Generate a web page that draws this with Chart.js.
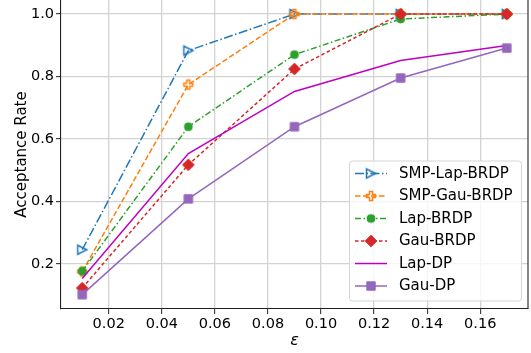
<!DOCTYPE html>
<html><head><meta charset="utf-8">
<script src="https://cdn.jsdelivr.net/npm/chart.js@4"></script>
<style>html,body{margin:0;padding:0;background:#fff}#wrap{width:531px;height:353px}</style>
</head><body><div id="wrap"><canvas id="c" width="531" height="353"></canvas></div>
<script>
// ---- data ----
const epsilons = [0.01, 0.05, 0.09, 0.13, 0.17];
const seriesNames = ['SMP-Lap-BRDP', 'SMP-Gau-BRDP', 'Lap-BRDP', 'Gau-BRDP', 'Lap-DP', 'Gau-DP'];
const smpLapBrdp = [0.245, 0.883, 1.0, 1.0, 1.0];
const smpGauBrdp = [0.175, 0.774, 1.0, 1.0, 1.0];
const lapBrdp    = [0.176, 0.639, 0.870, 0.984, 1.0];
const gauBrdp    = [0.122, 0.517, 0.824, 1.0, 1.0];
const lapDp      = [0.153, 0.553, 0.752, 0.851, 0.899];
const gauDp      = [0.101, 0.408, 0.639, 0.795, 0.891];
const xTicks = [0.02, 0.04, 0.06, 0.08, 0.10, 0.12, 0.14, 0.16];
const yTicks = [0.2, 0.4, 0.6, 0.8, 1.0];
const xLabel = 'ε';
const yLabel = 'Acceptance Rate';

// ---- styles ----
const FONT = "'DejaVu Sans', sans-serif";
const MS = 9;
function marker(type, color, filled) {
  const s = 22, c = document.createElement('canvas');
  c.width = s; c.height = s;
  const g = c.getContext('2d');
  g.translate(s / 2, s / 2);
  g.beginPath();
  const h = MS / 2;
  if (type === 'triR') {
    g.moveTo(h, 0); g.lineTo(-h, -h); g.lineTo(-h, h); g.closePath();
  } else if (type === 'plus') {
    const a = MS / 6, b = MS / 2;
    const pts = [[-a,-b],[a,-b],[a,-a],[b,-a],[b,a],[a,a],[a,b],[-a,b],[-a,a],[-b,a],[-b,-a],[-a,-a]];
    pts.forEach((p, i) => i ? g.lineTo(p[0], p[1]) : g.moveTo(p[0], p[1]));
    g.closePath();
  } else if (type === 'circle') {
    g.arc(0, 0, 4.0, 0, Math.PI * 2);
  } else if (type === 'diamond') {
    const d = 5.8;
    g.moveTo(0, -d); g.lineTo(d, 0); g.lineTo(0, d); g.lineTo(-d, 0); g.closePath();
  } else if (type === 'square') {
    g.rect(-4.2, -4.2, 8.4, 8.4);
  }
  if (filled) { g.fillStyle = color; g.fill(); }
  g.lineWidth = filled ? 1 : 1.5;
  g.strokeStyle = color;
  g.lineJoin = 'miter';
  g.stroke();
  return c;
}
const styles = [
  { color: '#1f77b4', dash: [9, 2.5, 1.5, 2.5], mk: marker('triR', '#1f77b4', false) },
  { color: '#ff7f0e', dash: [5.5, 2.5], mk: marker('plus', '#ff7f0e', false) },
  { color: '#2ca02c', dash: [6, 2.5, 1.5, 2.5], mk: marker('circle', '#2ca02c', true) },
  { color: '#d62728', dash: [3.5, 2.5], mk: marker('diamond', '#d62728', true) },
  { color: '#bf00bf', dash: [], mk: null },
  { color: '#9467bd', dash: [], mk: marker('square', '#9467bd', true) }
];
const allSeries = [smpLapBrdp, smpGauBrdp, lapBrdp, gauBrdp, lapDp, gauDp];

const datasets = allSeries.map((vals, i) => ({
  label: seriesNames[i],
  data: epsilons.map((x, j) => ({ x: x, y: vals[j] })),
  borderColor: styles[i].color,
  backgroundColor: styles[i].color,
  borderWidth: 1.5,
  borderDash: styles[i].dash,
  pointStyle: styles[i].mk || 'circle',
  pointRadius: styles[i].mk ? 5 : 0,
  pointHoverRadius: styles[i].mk ? 5 : 0,
  tension: 0,
  fill: false,
  order: 5 - i
}));

const frame = {
  id: 'frame',
  afterDatasetsDraw(chart) {
    const { ctx, chartArea: a } = chart;
    ctx.save();
    ctx.strokeStyle = '#222';
    ctx.lineWidth = 1.1;
    ctx.beginPath();
    ctx.moveTo(a.right, a.top); ctx.lineTo(a.right, a.bottom);
    ctx.stroke();
    // legend
    const bx = 349.5, by = 161, bw = 172, bh = 140, r = 3;
    ctx.beginPath();
    ctx.moveTo(bx + r, by); ctx.lineTo(bx + bw - r, by); ctx.arcTo(bx + bw, by, bx + bw, by + r, r);
    ctx.lineTo(bx + bw, by + bh - r); ctx.arcTo(bx + bw, by + bh, bx + bw - r, by + bh, r);
    ctx.lineTo(bx + r, by + bh); ctx.arcTo(bx, by + bh, bx, by + bh - r, r);
    ctx.lineTo(bx, by + r); ctx.arcTo(bx, by, bx + r, by, r);
    ctx.closePath();
    ctx.fillStyle = 'rgba(255,255,255,0.8)';
    ctx.fill();
    ctx.strokeStyle = '#d5d5d5';
    ctx.lineWidth = 1;
    ctx.stroke();
    seriesNames.forEach((name, i) => {
      const y = 173.5 + i * 22.5;
      const st = styles[i];
      ctx.beginPath();
      ctx.setLineDash(st.dash);
      ctx.strokeStyle = st.color;
      ctx.lineWidth = 1.5;
      ctx.moveTo(355, y); ctx.lineTo(387, y);
      ctx.stroke();
      ctx.setLineDash([]);
      if (st.mk) ctx.drawImage(st.mk, 371 - st.mk.width / 2, y - st.mk.height / 2);
      ctx.fillStyle = '#000';
      ctx.font = '15px ' + FONT;
      ctx.textBaseline = 'middle';
      ctx.textAlign = 'left';
      ctx.fillText(name, 399, y + 0.5);
    });
    ctx.restore();
  }
};

Chart.defaults.color = '#000';
new Chart(document.getElementById('c'), {
  type: 'line',
  data: { datasets: datasets },
  options: {
    responsive: false,
    animation: false,
    devicePixelRatio: 1,
    layout: { autoPadding: false, padding: { left: 0, right: 3, top: 0, bottom: 0 } },
    plugins: { legend: { display: false }, tooltip: { enabled: false } },
    scales: {
      x: {
        type: 'linear', min: 0.002, max: 0.178,
        afterBuildTicks: s => { s.ticks = xTicks.map(v => ({ value: v })); },
        afterFit: s => { s.height = 44; s.paddingLeft = 0; s.paddingRight = 0; },
        ticks: { font: { family: FONT, size: 14.5 }, padding: 2, maxRotation: 0, autoSkip: false,
                 callback: v => v.toFixed(2) },
        grid: { color: '#d3d3d3', lineWidth: 1.3, tickColor: '#222', tickLength: 5, tickWidth: 1 },
        border: { color: '#222', width: 1.1 },
        title: { display: true, text: xLabel, font: { family: FONT, size: 16, style: 'italic', lineHeight: 1.2 },
                 padding: { top: 0, bottom: 3 } }
      },
      y: {
        type: 'linear', min: 0.055, max: 1.045,
        afterBuildTicks: s => { s.ticks = yTicks.map(v => ({ value: v })); },
        afterFit: s => { s.width = 61; s.paddingTop = 0; s.paddingBottom = 0; },
        ticks: { font: { family: FONT, size: 14.5 }, padding: 2, callback: v => v.toFixed(1) },
        grid: { color: '#d3d3d3', lineWidth: 1.3, tickColor: '#222', tickLength: 5, tickWidth: 1 },
        border: { color: '#222', width: 1.1 },
        title: { display: true, text: yLabel, font: { family: FONT, size: 15, lineHeight: 1.2 },
                 padding: { top: 13, bottom: 0 } }
      }
    }
  },
  plugins: [frame]
});
</script>
</body></html>
